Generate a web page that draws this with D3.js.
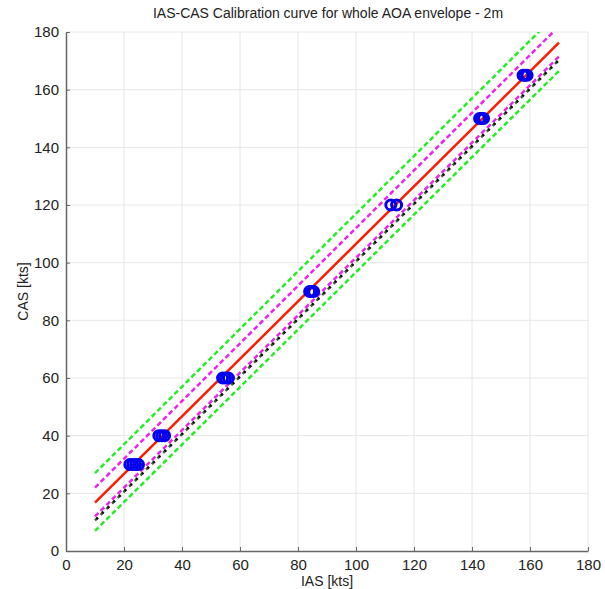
<!DOCTYPE html>
<html>
<head>
<meta charset="utf-8">
<title>IAS-CAS Calibration</title>
<script src="https://d3js.org/d3.v7.min.js"></script>
<style>
  body { margin: 0; background: #fff; }
  text { font-family: "Liberation Sans", Arial, sans-serif; fill: #222; }
</style>
</head>
<body>
<div id="chart"></div>
<script>
// data
const ticks = [0, 20, 40, 60, 80, 100, 120, 140, 160, 180];
const lineIAS = [10, 170];
const greenUpper = [27, 187];
const magentaUpper = [22, 182];
const redFit = [16.8, 176.3];
const magentaLower = [12, 171.5];
const darkRef = [10.6, 170.3];
const greenLower = [7, 166.5];

const pointIAS = [22, 23, 24, 25, 32, 33, 34, 54, 55, 56, 84, 84.7, 85.4, 112, 114, 142.6, 143.3, 144, 157.6, 158.3, 159];
const pointCAS = [30, 30, 30, 30, 40, 40, 40, 60, 60, 60, 90, 90, 90, 120, 120, 150, 150, 150, 165, 165, 165];

const W = 605, H = 589;
const margin = { left: 66, right: 17, top: 32, bottom: 38 };

const svg = d3.select("#chart").append("svg")
  .attr("width", W).attr("height", H);

const x = d3.scaleLinear().domain([0, 180]).range([margin.left, W - margin.right]);
const y = d3.scaleLinear().domain([0, 180]).range([H - margin.bottom, margin.top]);

svg.append("defs").append("clipPath").attr("id", "clip")
  .append("rect")
  .attr("x", x(0)).attr("y", y(180))
  .attr("width", x(180) - x(0)).attr("height", y(0) - y(180));

// grid
const grid = svg.append("g");
grid.selectAll(".gx").data(ticks.slice(1)).enter().append("line")
  .attr("x1", d => x(d)).attr("x2", d => x(d))
  .attr("y1", y(0)).attr("y2", y(180))
  .attr("stroke", "#e6e6e6");
grid.selectAll(".gy").data(ticks.slice(1)).enter().append("line")
  .attr("x1", x(0)).attr("x2", x(180))
  .attr("y1", d => y(d)).attr("y2", d => y(d))
  .attr("stroke", "#e6e6e6");

// axes
const xAxis = svg.append("g")
  .attr("transform", `translate(0,${y(0)})`)
  .call(d3.axisBottom(x).tickValues(ticks).tickSizeInner(-4).tickSizeOuter(0).tickPadding(8));
const yAxis = svg.append("g")
  .attr("transform", `translate(${x(0)},0)`)
  .call(d3.axisLeft(y).tickValues(ticks).tickSizeInner(-4).tickSizeOuter(0).tickPadding(7));
[xAxis, yAxis].forEach(a => {
  a.select(".domain").attr("stroke", "#666").attr("stroke-width", 1.5);
  a.selectAll(".tick line").attr("stroke", "#666");
  a.selectAll(".tick text").attr("font-size", 15).style("fill", "#222")
    .attr("font-family", "Liberation Sans, Arial, sans-serif");
});

// lines
const plot = svg.append("g").attr("clip-path", "url(#clip)");
const line = d3.line().x(d => x(d[0])).y(d => y(d[1]));
const pts = vals => lineIAS.map((v, i) => [v, vals[i]]);

function addLine(vals, color, width, dash, offset) {
  plot.append("path")
    .attr("d", line(pts(vals)))
    .attr("fill", "none")
    .attr("stroke", color)
    .attr("stroke-width", width)
    .attr("stroke-dasharray", dash)
    .attr("stroke-dashoffset", offset || 0);
}

addLine(greenUpper, "#22ee22", 2.5, "5,3");
addLine(greenLower, "#22ee22", 2.5, "5,3");
addLine(magentaUpper, "#ee22ee", 2.5, "5,3");
addLine(magentaLower, "#ee22ee", 2.5, "5,3");
addLine(darkRef, "#2d6a2d", 2.5, "4,4");
addLine(darkRef, "#111111", 2.5, "2,6", 6);
addLine(redFit, "#ff1a00", 2.5, null);

// points
plot.selectAll(".pt").data(pointIAS).enter().append("circle")
  .attr("cx", d => x(d))
  .attr("cy", (d, i) => y(pointCAS[i]))
  .attr("r", 5)
  .attr("fill", "none")
  .attr("stroke", "#0000ee")
  .attr("stroke-width", 3);

// titles
svg.append("text")
  .attr("x", 328).attr("y", 18)
  .attr("text-anchor", "middle").attr("font-size", 14)
  .text("IAS-CAS Calibration curve for whole AOA envelope - 2m");
svg.append("text")
  .attr("x", (x(0) + x(180)) / 2).attr("y", 586)
  .attr("text-anchor", "middle").attr("font-size", 14)
  .text("IAS [kts]");
svg.append("text")
  .attr("transform", `translate(28,${(y(0) + y(180)) / 2}) rotate(-90)`)
  .attr("text-anchor", "middle").attr("font-size", 14)
  .text("CAS [kts]");
</script>
</body>
</html>
